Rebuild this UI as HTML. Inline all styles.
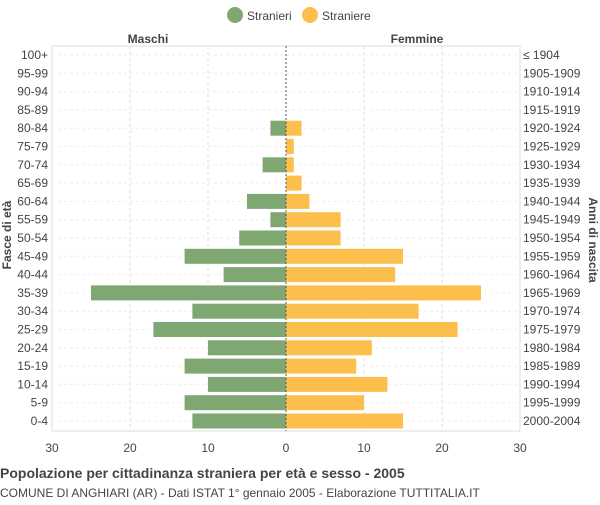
<!DOCTYPE html>
<html><head><meta charset="utf-8"><style>body{margin:0;background:#fff}svg{font-family:"Liberation Sans",sans-serif}</style></head>
<body>
<svg id="c" width="600" height="500">
<g>
<circle cx="235" cy="15" r="8" fill="#7fa772"/>
<text x="247" y="20" font-size="12" fill="#444">Stranieri</text>
<circle cx="310" cy="15" r="8" fill="#fcbf4c"/>
<text x="322" y="20" font-size="12" fill="#444">Straniere</text>
</g>
<text x="148" y="43" font-size="12" font-weight="bold" fill="#444" text-anchor="middle">Maschi</text>
<text x="417" y="43" font-size="12" font-weight="bold" fill="#444" text-anchor="middle">Femmine</text>
<rect x="52" y="46" width="468" height="385" fill="none" stroke="#ddd"/>
<g id="grid"></g><g id="bars"></g><g id="labels"></g>
<text transform="translate(11,235) rotate(-90)" font-size="12" font-weight="bold" fill="#444" text-anchor="middle">Fasce di età</text>
<text transform="translate(589,240) rotate(90)" font-size="12" font-weight="bold" fill="#444" text-anchor="middle">Anni di nascita</text>
<text x="0" y="478" font-size="14" font-weight="bold" fill="#444">Popolazione per cittadinanza straniera per età e sesso - 2005</text>
<text x="0" y="497" font-size="12" fill="#444">COMUNE DI ANGHIARI (AR) - Dati ISTAT 1° gennaio 2005 - Elaborazione TUTTITALIA.IT</text>
</svg>
<script>
const ages=["100+","95-99","90-94","85-89","80-84","75-79","70-74","65-69","60-64","55-59","50-54","45-49","40-44","35-39","30-34","25-29","20-24","15-19","10-14","5-9","0-4"];
const years=["≤ 1904","1905-1909","1910-1914","1915-1919","1920-1924","1925-1929","1930-1934","1935-1939","1940-1944","1945-1949","1950-1954","1955-1959","1960-1964","1965-1969","1970-1974","1975-1979","1980-1984","1985-1989","1990-1994","1995-1999","2000-2004"];
const males=[0,0,0,0,2,0,3,0,5,2,6,13,8,25,12,17,10,13,10,13,12];
const females=[0,0,0,0,2,1,1,2,3,7,7,15,14,25,17,22,11,9,13,10,15];
const ticks=[30,20,10,0,10,20,30];
const NS="http://www.w3.org/2000/svg";
const cx=286,k=7.8,y0=55,dy=18.3,bh=15;
const X=v=>cx+v*k, Y=i=>y0+i*dy;
function mk(t,a,p){const e=document.createElementNS(NS,t);for(const n in a)e.setAttribute(n,a[n]);document.getElementById(p).appendChild(e);return e;}
[-30,-20,-10,0,10,20,30].forEach((v,i)=>{
 const l=mk('line',{x1:X(v),x2:X(v),y1:46,y2:431,stroke:v==0?'#555':'#ddd','stroke-dasharray':v==0?'2,2':'3,3'},'grid');
 
 
 const t=mk('text',{x:X(v),y:452,'font-size':12,fill:'#444','text-anchor':'middle'},'labels');
 t.textContent=ticks[i];
 
 
});
ages.forEach((a,i)=>{
 const g=mk('line',{x1:52,x2:520,y1:Y(i),y2:Y(i),stroke:'#eee','stroke-dasharray':'3,3'},'grid');
 
 
 const m=mk('rect',{x:X(-males[i]),y:Y(i)-bh/2,width:males[i]*k,height:bh,fill:'#7fa772'},'bars');
 
 
 const f=mk('rect',{x:cx,y:Y(i)-bh/2,width:females[i]*k,height:bh,fill:'#fcbf4c'},'bars');
 
 
 const t=mk('text',{x:48,y:Y(i)+4,'font-size':12,fill:'#444','text-anchor':'end'},'labels');
 t.textContent=a;
 
 
 const t2=mk('text',{x:523,y:Y(i)+4,'font-size':12,fill:'#444'},'labels');
 t2.textContent=years[i];
 
 
});
mk('line',{x1:cx,x2:cx,y1:46,y2:431,stroke:'#555','stroke-dasharray':'2,2'},'bars');
</script>
</body></html>
